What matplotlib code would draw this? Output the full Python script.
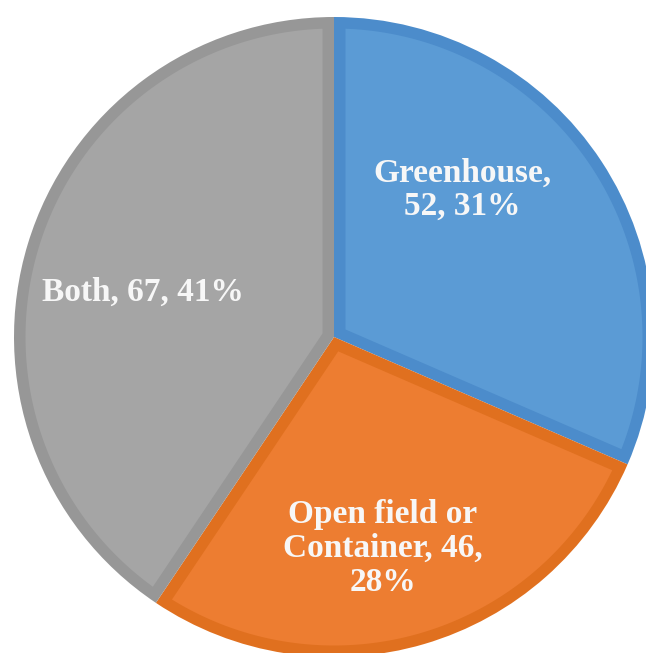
import matplotlib
matplotlib.use("Agg")
import matplotlib.pyplot as plt
from matplotlib.patches import Polygon
import numpy as np

categories = ["Greenhouse", "Open field or\nContainer", "Both"]
values = [52, 46, 67]
fill_colors = ["#5B9BD5", "#ED7D31", "#A5A5A5"]
edge_colors = ["#4C8CCB", "#E0701F", "#979797"]
label_texts = ["Greenhouse,\n52, 31%", "Open field or\nContainer, 46,\n28%", "Both, 67, 41%"]
# label anchor positions in pie-radius units (x, y)
label_pos = [(0.40, 0.46), (0.153, -0.66), (-0.597, 0.14)]

W, H = 646, 653
fig = plt.figure(figsize=(W / 100, H / 100), dpi=100)
ax = fig.add_axes([0, 0, 1, 1])

cx, cy, R = 334, 337, 320
border = 11.5 / R  # width of the darker rim inside each slice

# outer slices in the rim colour
wedges, _ = ax.pie(values, startangle=90, counterclock=False, colors=edge_colors,
                   radius=1.0, center=(0, 0), frame=False,
                   wedgeprops=dict(linewidth=0))


def inset_wedge(t1, t2, r, d, n=200):
    """Polygon of a wedge (degrees t1..t2, radius r) shrunk inward by d."""
    a1, a2 = np.radians(t1), np.radians(t2)
    half = (a2 - a1) / 2
    mid = (a1 + a2) / 2
    apex = d / np.sin(half) * np.array([np.cos(mid), np.sin(mid)])
    ri = r - d
    da = np.arcsin(d / ri)
    ang = np.linspace(a1 + da, a2 - da, n)
    arc = np.column_stack([ri * np.cos(ang), ri * np.sin(ang)])
    return np.vstack([apex, arc])


for w, fc in zip(wedges, fill_colors):
    pts = inset_wedge(w.theta1, w.theta2, w.r, border)
    ax.add_patch(Polygon(pts, closed=True, facecolor=fc, edgecolor="none"))

ax.set_xlim((0 - cx) / R, (W - cx) / R)
ax.set_ylim((cy - H) / R, (cy - 0) / R)
ax.set_aspect("equal")
ax.axis("off")

for txt, (x, y) in zip(label_texts, label_pos):
    ax.text(x, y, txt, ha="center", va="center", color="#F7F7F7",
            fontsize=24, fontweight="bold", family="Liberation Serif",
            linespacing=1.12)

fig.savefig("out.png", dpi=100)
